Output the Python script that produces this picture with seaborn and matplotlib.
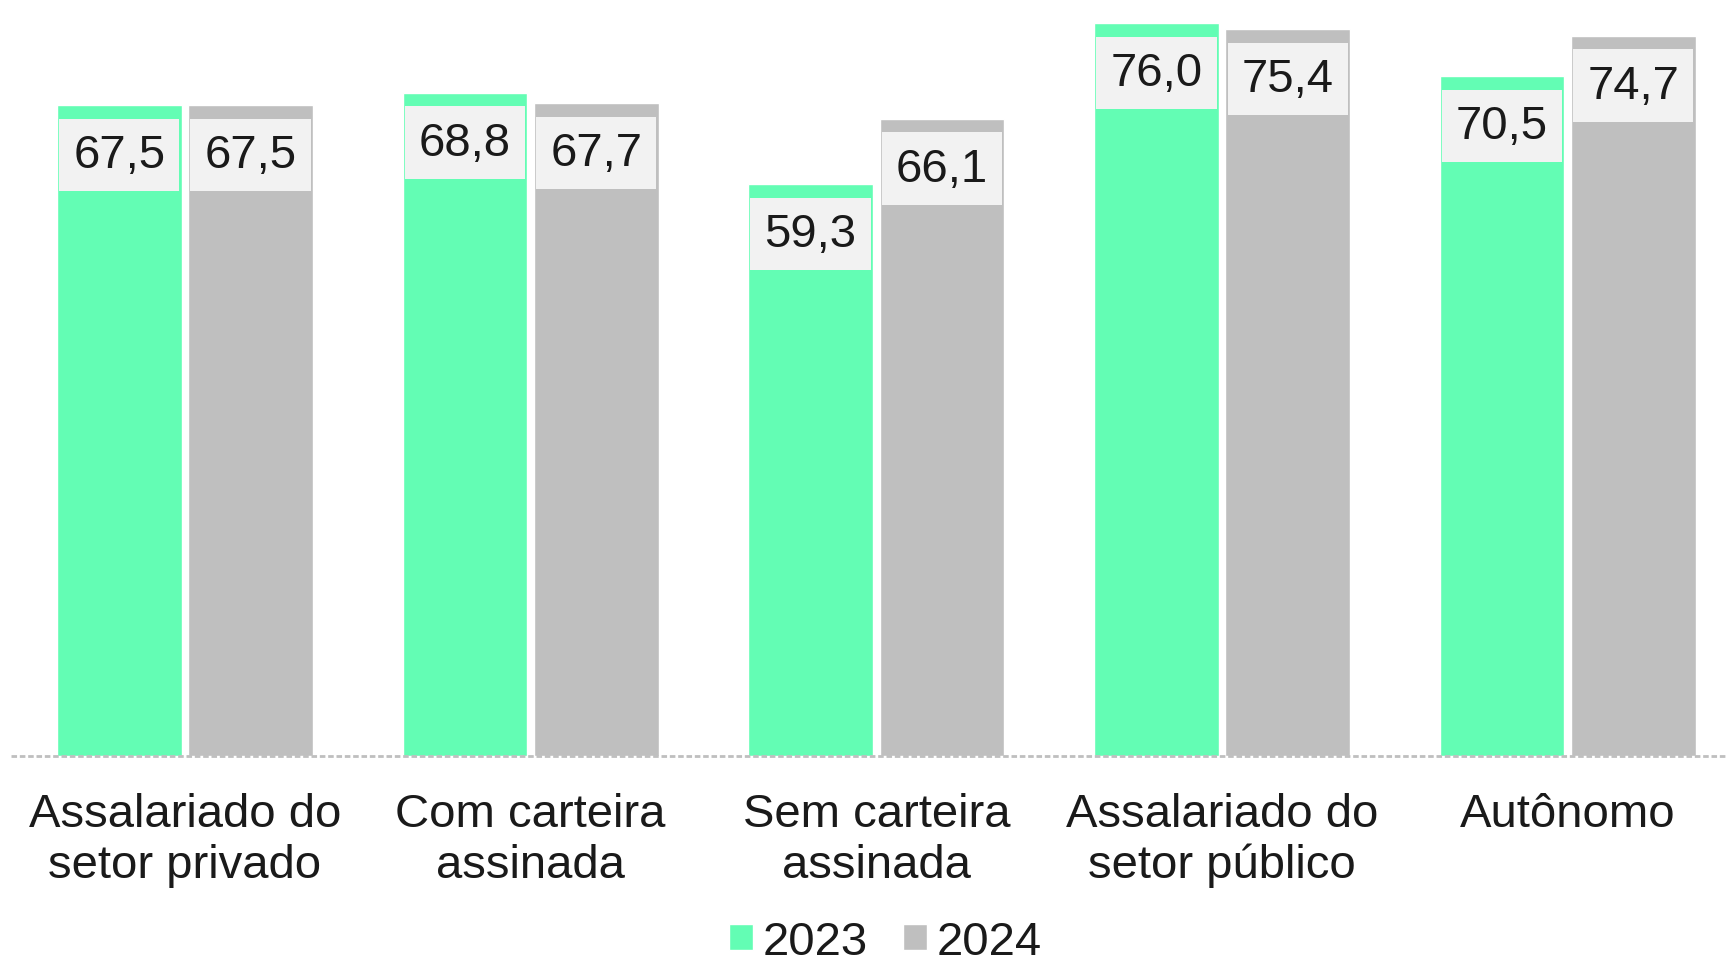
import pandas as pd
import matplotlib
matplotlib.use("Agg")
import matplotlib.pyplot as plt
import seaborn as sns
from matplotlib.patches import Patch

# dados
categorias = ['Assalariado do\nsetor privado', 'Com carteira\nassinada', 'Sem carteira\nassinada',
              'Assalariado do\nsetor público', 'Autônomo']
valores_2023 = [67.5, 68.8, 59.3, 76.0, 70.5]
valores_2024 = [67.5, 67.7, 66.1, 75.4, 74.7]
anos = ['2023', '2024']
cores = {'2023': '#63FDB4', '2024': '#BFBFBF'}

df = pd.DataFrame({
    'Categoria': categorias * 2,
    'Ano': [anos[0]] * len(categorias) + [anos[1]] * len(categorias),
    'Valor': valores_2023 + valores_2024,
})

sns.set_style('white')
plt.rcParams['font.family'] = ['Liberation Sans', 'DejaVu Sans']

fig = plt.figure(figsize=(17.26, 9.79), dpi=100)
ax = fig.add_axes([0.0064, 0.2268, 0.9936, 0.7732])

sns.barplot(data=df, x='Categoria', y='Valor', hue='Ano', palette=cores,
            width=0.76, gap=0.05, saturation=1, ax=ax, legend=False)

ax.set_ylim(0, 78.5)
ax.set_xlim(-0.503, 4.458)

# rótulos de valor dentro das barras
for cont in ax.containers:
    for barra in cont:
        v = barra.get_height()
        ax.annotate(f'{v:.1f}'.replace('.', ','),
                    (barra.get_x() + barra.get_width() / 2, v),
                    xytext=(0, -36), textcoords='offset points',
                    ha='center', va='center', fontsize=34, color='#1a1a1a',
                    bbox=dict(boxstyle='square,pad=0.3', fc='#F2F2F2', ec='none'))

ax.axhline(0, color='#BFBFBF', lw=2, linestyle=(0, (2, 1)), clip_on=False)
sns.despine(ax=ax, left=True, bottom=True)
ax.set_yticks([])
ax.set_xlabel('')
ax.set_ylabel('')
ax.tick_params(axis='x', length=0, pad=26, labelsize=34, labelcolor='#1a1a1a')
for t in ax.get_xticklabels():
    t.set_linespacing(1.2)

handles = [Patch(facecolor=cores[a], label=a) for a in anos]
fig.legend(handles=handles, loc='lower center', bbox_to_anchor=(0.513, -0.012),
           ncol=2, frameon=False, fontsize=34, handlelength=0.5, handleheight=0.5,
           handletextpad=0.2, columnspacing=0.75, borderpad=0.05, labelcolor='#1a1a1a')

fig.savefig('out.png', dpi=100)
